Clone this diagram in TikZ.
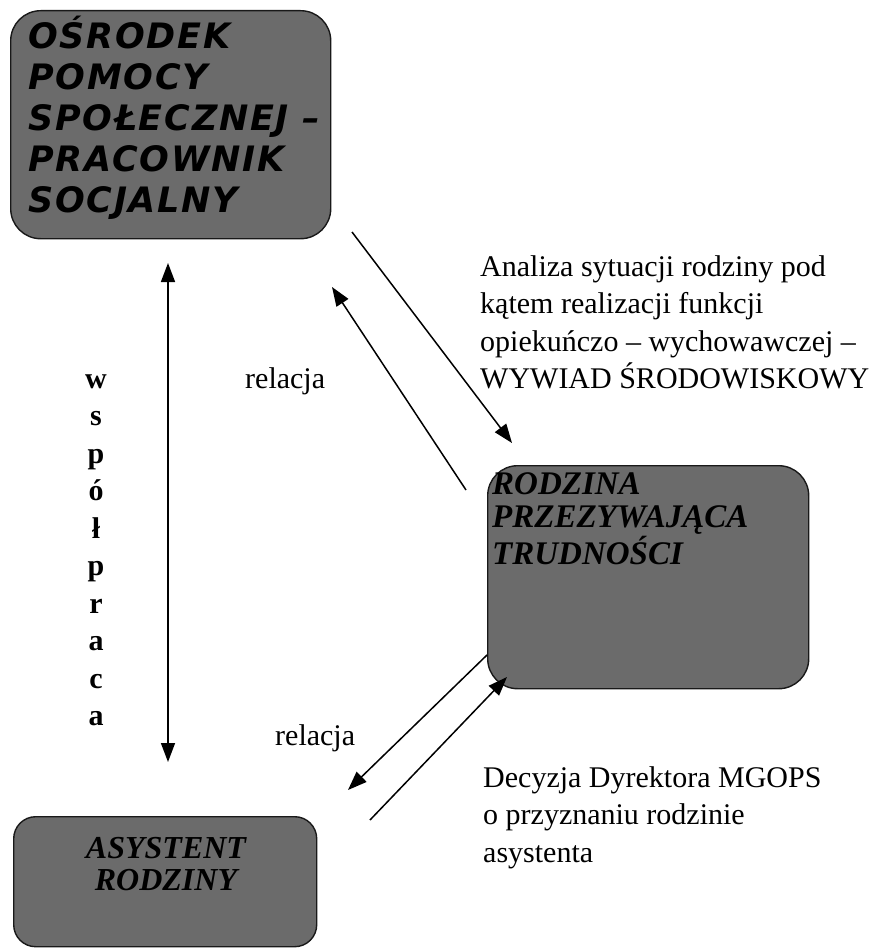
\documentclass[tikz,border=0pt]{standalone}
\usepackage{fontspec}
\setmainfont{Liberation Serif}
\newfontfamily\verd{DejaVu Sans}[BoldFont={DejaVu Sans Bold},ItalicFont={DejaVu Sans Oblique},BoldItalicFont={DejaVu Sans Bold Oblique},LetterSpace=5]
\usetikzlibrary{arrows.meta}
\tikzset{
  box/.style={draw=black!90, line width=1.4pt, fill=black!58, inner sep=0pt},
  conn/.style={line width=1.5pt, -{Triangle[length=19pt,width=14pt]}},
  twoway/.style={line width=1.5pt, {Triangle[length=19pt,width=14pt]}-{Triangle[length=19pt,width=14pt]}},
  body/.style={font=\fontsize{30}{37.5}\selectfont, inner sep=0pt, align=left, anchor=base west},
  opsfont/.style={font=\verd\bfseries\itshape\fontsize{35}{41}\selectfont, inner sep=0pt, align=left, anchor=base west},
  famfont/.style={font=\bfseries\itshape\fontsize{33}{33}\selectfont, inner sep=0pt}
}
\begin{document}
\begin{tikzpicture}[x=1pt,y=-1pt]
\useasboundingbox (0,0) rectangle (884,950);
% boxes
\node[box, rounded corners=30pt, anchor=north west, minimum width=320pt, minimum height=228pt] (ops) at (10,10) {};
\node[box, rounded corners=30pt, anchor=north west, minimum width=321pt, minimum height=223pt] (rodz) at (487,465) {};
\node[box, rounded corners=22pt, anchor=north west, minimum width=303pt, minimum height=130pt] (asys) at (13,816) {};
% box texts (base anchor = baseline of the last line)
\node[opsfont] (opsT) at (28,212) {OŚRODEK\\POMOCY\\SPOŁECZNEJ –\\PRACOWNIK\\SOCJALNY};
\node[famfont, align=left, anchor=base west] (rodzT) at (492,564) {RODZINA\\PRZEZYWAJĄCA\\TRUDNOŚCI};
\node[famfont, align=center, anchor=base, font=\bfseries\itshape\fontsize{32}{32}\selectfont] (asysT) at (166,890) {ASYSTENT\\RODZINY};
% free texts
\node[body] (analiza) at (480,388.5) {Analiza sytuacji rodziny pod\\kątem realizacji funkcji\\opiekuńczo – wychowawczej –\\WYWIAD ŚRODOWISKOWY};
\node[body] (rel1) at (245,388) {relacja};
\node[body] (rel2) at (275,745) {relacja};
\node[body] (decyzja) at (483,862) {Decyzja Dyrektora MGOPS\\o przyznaniu rodzinie\\asystenta};
\node[font=\bfseries\fontsize{30}{37.5}\selectfont, inner sep=0pt, align=center, anchor=base] (wsp) at (96,725.5) {w\\s\\p\\ó\\ł\\p\\r\\a\\c\\a};
% connector end points
\coordinate (a1s) at (352,232); \coordinate (a1e) at (512,443);
\coordinate (a2s) at (466,490); \coordinate (a2e) at (332,287);
\coordinate (vs) at (168,263);  \coordinate (ve) at (168,762);
\coordinate (a3s) at (487,655); \coordinate (a3e) at (348,790);
\coordinate (a4s) at (370,820); \coordinate (a4e) at (507,677);
% connectors
\draw[conn] (a1s) -- (a1e);
\draw[conn] (a2s) -- (a2e);
\draw[twoway] (vs) -- (ve);
\draw[conn] (a3s) -- (a3e);
\draw[conn] (a4s) -- (a4e);
\end{tikzpicture}
\end{document}
